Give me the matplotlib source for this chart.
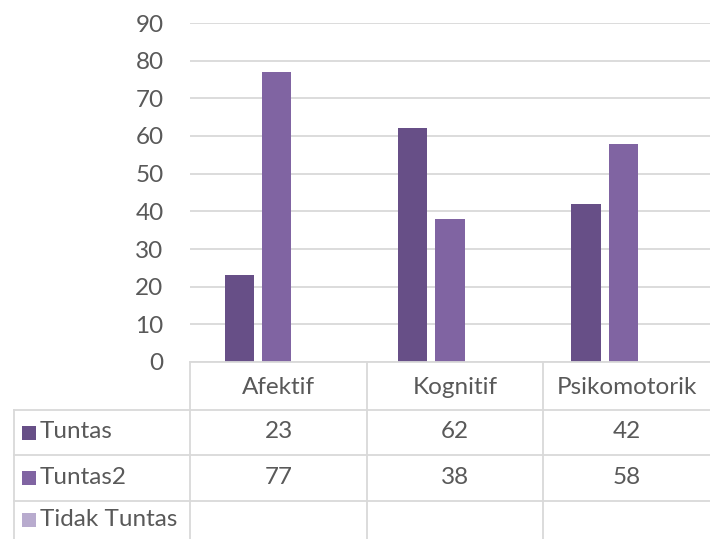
import matplotlib.pyplot as plt
import numpy as np
from matplotlib.patches import Rectangle

categories = ['Afektif', 'Kognitif', 'Psikomotorik']
series_names = ['Tuntas', 'Tuntas2', 'Tidak Tuntas']
tuntas = [23, 62, 42]
tuntas2 = [77, 38, 58]
tidak_tuntas = [None, None, None]
colors = ['#674F87', '#8064A2', '#B8ABCE']

W, H = 710, 539
fig = plt.figure(figsize=(W / 100, H / 100), dpi=100)
plt.rcParams['font.family'] = ['Lato', 'DejaVu Sans']
txt = '#595959'
grid = '#D9D9D9'
fs = 17.5

# pixel helpers (top-left origin)
def fx(px):
    return px / W

def fy(py):
    return 1 - py / H

x0, x1 = 190, 710
y_top, y_zero = 23, 362
ax = fig.add_axes([fx(x0), fy(y_zero), fx(x1) - fx(x0), fy(y_top) - fy(y_zero)])
ax.set_xlim(-0.5, 2.5)
ax.set_ylim(0, 90)

x = np.arange(len(categories))
slot = 0.215
width = 0.17
for k, vals in enumerate([tuntas, tuntas2, tidak_tuntas]):
    v = [0 if a is None else a for a in vals]
    ax.bar(x + (k - 1) * slot, v, width, color=colors[k], zorder=3)

ax.set_yticks(range(0, 91, 10))
ax.yaxis.grid(True, color=grid, linewidth=1.3)
ax.set_axisbelow(True)
ax.tick_params(axis='y', length=0, pad=19, labelsize=fs, labelcolor=txt)
ax.set_xticks([])
for s in ['left', 'right', 'top', 'bottom']:
    ax.spines[s].set_visible(False)

# data table
col_edges = [190, 367, 543, 710]
row_lines = [362, 410, 455, 501]
left_edge = 14
lk = dict(color=grid, linewidth=1.3, transform=fig.transFigure, clip_on=False)
fig.add_artist(plt.Line2D([fx(190), fx(710)], [fy(362), fy(362)], **lk))
for yy in row_lines[1:]:
    fig.add_artist(plt.Line2D([fx(left_edge), fx(710)], [fy(yy), fy(yy)], **lk))
fig.add_artist(plt.Line2D([fx(left_edge), fx(left_edge)], [fy(410), 0], **lk))
for xx in col_edges[:3]:
    fig.add_artist(plt.Line2D([fx(xx), fx(xx)], [fy(362), 0], **lk))

for i, c in enumerate(categories):
    cx = (col_edges[i] + col_edges[i + 1]) / 2
    fig.text(fx(cx), fy(387), c, ha='center', va='center', fontsize=fs, color=txt)

row_centers = [432, 477, 519]
for r, (name, vals) in enumerate(zip(series_names, [tuntas, tuntas2, tidak_tuntas])):
    cy = row_centers[r]
    fig.add_artist(Rectangle((fx(22), fy(cy + 8)), fx(14), fy(0) - fy(14),
                             facecolor=colors[r], edgecolor='none', transform=fig.transFigure))
    fig.text(fx(40), fy(cy), name, ha='left', va='center', fontsize=fs, color=txt)
    for i, v in enumerate(vals):
        if v is None:
            continue
        cx = (col_edges[i] + col_edges[i + 1]) / 2
        fig.text(fx(cx), fy(cy), str(v), ha='center', va='center', fontsize=fs, color=txt)

fig.savefig('out.png', dpi=100)
